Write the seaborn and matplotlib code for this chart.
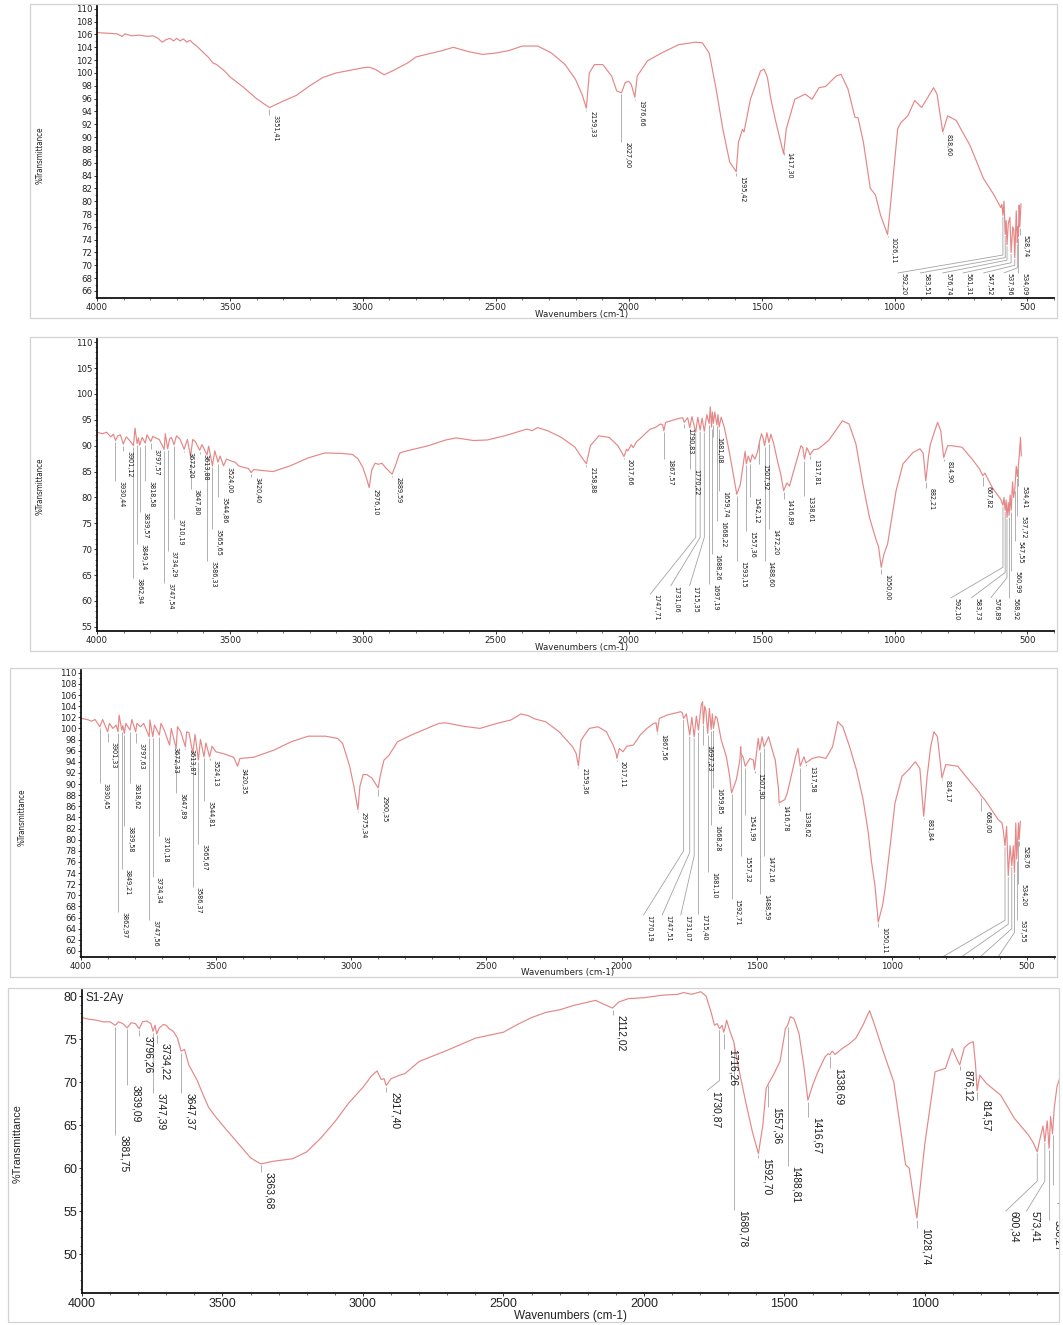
import numpy as np
import pandas as pd
import matplotlib
matplotlib.use("Agg")
import matplotlib.pyplot as plt
import seaborn as sns
from matplotlib.patches import Rectangle
from matplotlib.transforms import ScaledTranslation
from matplotlib.ticker import MultipleLocator
from matplotlib import font_manager as fm

# ---------------- data: panel 1 ----------------
p1_wn = [4000, 3960, 3925, 3905, 3895, 3870, 3840, 3810, 3790, 3770, 3755, 3740, 3725, 3712, 3700,
         3688, 3675, 3662, 3650, 3638, 3625, 3600, 3580, 3565, 3550, 3520, 3500, 3450, 3400, 3351.41,
         3300, 3250, 3200, 3150, 3100, 3000, 2975, 2950, 2920, 2880, 2830, 2800, 2700, 2660, 2600,
         2550, 2500, 2450, 2400, 2342, 2290, 2239, 2200, 2174, 2159.33, 2148, 2129, 2097, 2064, 2045,
         2027.00, 2013, 2000, 1990, 1976.66, 1968, 1929, 1877, 1813, 1749, 1723, 1697, 1671, 1646, 1620,
         1595.42, 1587, 1572, 1566, 1542, 1504, 1491, 1478, 1465, 1446, 1417.30, 1407, 1375, 1336, 1310,
         1284, 1259, 1220, 1201, 1175, 1149, 1137, 1117, 1091, 1072, 1053, 1026.11, 1014, 988, 975,
         950, 924, 898, 879, 853, 840, 818.60, 800, 768, 716, 665, 626, 600, 596, 592.20,
         588, 583.51, 580, 576.74, 572, 566, 561.31, 555, 551, 547.52, 542, 537.96, 536, 534.09, 531,
         528.74, 524]
p1_T = [106.3, 106.2, 106.1, 105.7, 106.1, 105.8, 105.9, 105.7, 105.8, 105.4, 104.8, 105.2, 105.4, 105.0, 105.4,
        105.0, 105.3, 104.8, 105.1, 104.6, 104.2, 103.2, 102.4, 101.6, 101.3, 100.3, 99.4, 97.8, 96.0, 94.6,
        95.6, 96.5, 98.0, 99.3, 100.0, 100.8, 100.9, 100.5, 99.7, 100.5, 101.6, 102.5, 103.5, 104.0, 103.3,
        102.9, 103.1, 103.5, 104.2, 104.2, 103.1, 101.3, 99.0, 96.5, 94.5, 100.0, 101.3, 101.3, 99.5, 97.2,
        96.9, 98.5, 98.7, 98.2, 96.2, 99.5, 101.9, 103.1, 104.4, 104.8, 104.7, 103.1, 97.5, 91.3, 86.1,
        84.6, 89.2, 91.2, 90.8, 95.9, 100.3, 100.6, 99.3, 95.9, 92.3, 87.4, 91.3, 95.9, 96.7, 95.9,
        97.7, 97.9, 99.5, 99.8, 97.5, 93.1, 93.0, 89.2, 82.0, 81.0, 77.9, 74.8, 79.9, 91.3, 92.3,
        93.3, 95.7, 94.6, 95.9, 97.7, 96.7, 90.8, 93.3, 92.6, 88.7, 83.5, 81.0, 79.0, 79.5, 77.8,
        80.0, 74.8, 77.0, 73.2, 76.5, 77.5, 72.0, 76.0, 75.5, 71.2, 78.5, 73.5, 76.0, 74.5, 79.4,
        76.0, 79.6]
p1_peaks = [3351.41, 2159.33, 2027.00, 1976.66, 1595.42, 1417.30, 1026.11, 818.60, 528.74, 534.09]
p1_tops = [93.5, 94.0, 89.2, 95.8, 84.0, 87.6, 74.4, 90.5, 74.8, 68.8]
p1_diag_peaks = [592.20, 583.51, 576.74, 561.31, 547.52, 537.96]
p1_diag_x = [988, 904, 820, 743, 666, 589]
p1_diag_elbow = [71.6, 71.2, 70.8, 70.4, 70.0, 69.6]
p1_diag_tops = [68.8, 68.8, 68.8, 68.8, 68.8, 68.8]

# ---------------- data: panel 2 ----------------
p2_wn = [4000, 3980, 3964, 3948, 3938, 3930.44, 3922, 3912, 3901.12, 3890, 3877, 3862.94, 3857, 3849.14, 3844,
         3839.57, 3830, 3818.58, 3812, 3797.57, 3790, 3779, 3766, 3747.54, 3743, 3734.29, 3727, 3720, 3710.19, 3701,
         3688, 3672.20, 3660, 3647.80, 3640, 3630, 3613.88, 3605, 3586.33, 3580, 3565.65, 3557, 3544.86, 3537, 3524.00,
         3513, 3493, 3480, 3467, 3448, 3430, 3420.40, 3410, 3377, 3338, 3273, 3208, 3143, 3078, 3039,
         3019, 3000, 2985, 2976.10, 2967, 2954, 2941, 2928, 2915, 2900, 2889.59, 2875, 2862, 2850, 2818,
         2753, 2688, 2649, 2584, 2532, 2467, 2402, 2383, 2363, 2343, 2305, 2253, 2202, 2176, 2158.88,
         2144, 2112, 2073, 2041, 2025, 2017.66, 2008, 2003, 1990, 1983, 1970, 1958, 1938, 1919, 1900,
         1880, 1872, 1867.57, 1861, 1842, 1816, 1797, 1790.83, 1778, 1770.22, 1762, 1747.71, 1740, 1731.06, 1724,
         1715.35, 1706, 1697.19, 1693, 1688.26, 1685, 1681.08, 1676, 1668.22, 1664, 1659.74, 1652, 1640, 1630, 1620,
         1605, 1593.15, 1580, 1570, 1562, 1557.36, 1550, 1542.12, 1535, 1525, 1515, 1507.92, 1500, 1494, 1488.60,
         1480, 1472.20, 1465, 1455, 1440, 1428, 1416.89, 1405, 1395, 1380, 1365, 1352, 1345, 1338.61, 1330,
         1322, 1317.81, 1305, 1286, 1248, 1220, 1196, 1171, 1145, 1119, 1094, 1068, 1060, 1050.00, 1040,
         1026, 994, 968, 930, 904, 892, 882.21, 872, 865, 838, 826, 814.90, 800, 785, 746,
         708, 680, 667.82, 660, 632, 600, 592.10, 588, 583.73, 580, 576.89, 572, 568.92, 565, 560.99,
         556, 552, 547.55, 542, 537.72, 534.41, 530, 526, 523]
p2_T = [92.6, 92.3, 92.6, 91.7, 92.2, 91.0, 91.9, 92.1, 90.3, 91.7, 91.0, 90.0, 93.4, 90.4, 91.5,
        90.1, 91.6, 90.5, 92.1, 90.8, 91.8, 91.5, 91.2, 89.3, 92.3, 89.4, 91.3, 91.6, 90.2, 91.9,
        91.3, 89.3, 91.2, 87.9, 91.2, 90.8, 89.1, 90.2, 88.2, 89.9, 86.1, 89.0, 86.8, 88.0, 86.1,
        87.4, 87.0, 86.8, 86.1, 85.8, 85.6, 84.8, 85.4, 85.2, 85.0, 86.1, 87.6, 88.6, 88.5, 88.3,
        87.5, 85.8, 83.5, 81.9, 85.2, 86.6, 86.4, 86.6, 85.8, 85.0, 84.5, 86.5, 88.5, 88.8, 89.2,
        90.0, 91.1, 91.5, 91.0, 91.1, 91.9, 92.9, 93.2, 92.9, 93.5, 92.9, 91.6, 89.7, 87.7, 86.5,
        90.0, 91.9, 91.6, 90.0, 88.6, 87.9, 89.3, 89.0, 90.2, 89.6, 90.8, 91.3, 92.3, 93.2, 93.5,
        94.2, 94.0, 92.9, 94.5, 94.8, 95.2, 95.4, 94.5, 95.4, 93.5, 95.6, 92.6, 95.5, 93.0, 95.3,
        92.8, 96.0, 94.3, 97.5, 93.6, 96.5, 94.3, 96.5, 94.0, 96.0, 93.6, 95.5, 93.5, 91.0, 88.4,
        84.0, 80.6, 82.5, 86.0, 88.9, 86.5, 88.0, 86.8, 88.3, 87.4, 88.8, 90.8, 92.3, 91.4, 90.0,
        92.5, 90.6, 92.2, 90.5, 87.0, 84.5, 81.3, 82.8, 82.2, 85.0, 87.7, 90.0, 89.6, 87.4, 89.6,
        88.8, 88.2, 89.2, 89.4, 91.0, 93.0, 94.8, 94.2, 90.3, 82.6, 76.1, 71.6, 70.5, 66.5, 69.0,
        71.0, 81.3, 86.5, 88.7, 89.4, 88.5, 83.2, 88.0, 90.3, 94.5, 92.9, 87.7, 90.0, 90.0, 89.7,
        87.4, 85.5, 84.2, 84.7, 81.9, 79.6, 78.5, 80.0, 77.5, 79.5, 76.1, 79.0, 76.5, 80.5, 77.5,
        83.0, 80.0, 81.5, 86.0, 84.0, 86.0, 88.5, 91.6, 88.0]
p2_peaks = [3930.44, 3901.12, 3862.94, 3849.14, 3839.57, 3818.58, 3797.57, 3747.54, 3734.29, 3710.19,
            3672.20, 3647.80, 3613.88, 3586.33, 3565.65, 3544.86, 3524.00, 3420.40, 2976.10, 2889.59,
            2158.88, 2017.66, 1867.57, 1790.83, 1770.22, 1697.19, 1688.26, 1681.08, 1668.22, 1659.74,
            1593.15, 1557.36, 1542.12, 1507.92, 1488.60, 1472.20, 1416.89, 1338.61, 1317.81, 1050.00,
            882.21, 814.90, 667.82, 568.92, 560.99, 547.55, 537.72, 534.41]
p2_tops = [83.2, 89.0, 64.5, 71.0, 77.1, 83.2, 89.4, 63.5, 69.7, 75.8,
           88.7, 81.6, 88.4, 67.7, 73.9, 80.0, 85.8, 83.9, 81.6, 83.9,
           85.8, 87.4, 87.4, 93.5, 85.5, 63.2, 69.0, 91.6, 75.5, 81.3,
           67.7, 73.5, 80.0, 86.5, 67.7, 73.9, 79.7, 80.3, 87.4, 65.2,
           81.9, 87.1, 82.3, 60.6, 65.8, 71.6, 76.4, 82.3]
p2_diag_peaks = [1747.71, 1731.06, 1715.35, 592.10, 583.73, 576.89]
p2_diag_x = [1919, 1842, 1771, 788, 711, 638]
p2_diag_elbow = [72.3, 72.3, 72.3, 66.5, 65.5, 64.5]
p2_diag_tops = [61.3, 62.9, 62.9, 60.6, 60.6, 60.6]

# ---------------- data: panel 3 ----------------
p3_wn = [4000, 3977, 3961, 3948, 3930.45, 3920, 3901.33, 3895, 3882, 3870, 3862.97, 3859, 3849.21, 3845, 3839.58,
         3834, 3818.62, 3812, 3797.63, 3793, 3780, 3768, 3747.56, 3745, 3734.34, 3728, 3710.18, 3704, 3692, 3672.33,
         3666, 3647.89, 3643, 3631, 3613.87, 3609, 3600, 3586.37, 3578, 3565.67, 3558, 3544.81, 3538, 3524.13, 3515,
         3501, 3476, 3457, 3435, 3420.35, 3412, 3362, 3286, 3222, 3159, 3095, 3051, 3032, 3006, 2990,
         2975.34, 2968, 2956, 2943, 2924, 2900.35, 2893, 2879, 2860, 2829, 2778, 2676, 2651, 2587, 2524,
         2461, 2410, 2372, 2346, 2320, 2281, 2231, 2181, 2168, 2159.36, 2150, 2137, 2119, 2087, 2056,
         2031, 2020, 2017.11, 2008, 1995, 1980, 1956, 1931, 1906, 1881, 1872, 1867.56, 1860, 1831, 1806,
         1781, 1775, 1770.19, 1760, 1747.51, 1740, 1731.07, 1723, 1715.40, 1705, 1700, 1697.23, 1692, 1688, 1681.10,
         1675, 1668.28, 1664, 1659.85, 1652, 1646, 1631, 1612, 1600, 1592.71, 1575, 1562, 1559, 1557.32, 1550,
         1541.99, 1525, 1512, 1507.90, 1494, 1488.59, 1480, 1472.16, 1456, 1444, 1431, 1419, 1416.78, 1396, 1387,
         1375, 1356, 1347, 1338.62, 1325, 1317.58, 1294, 1269, 1244, 1219, 1200, 1181, 1156, 1131, 1106,
         1087, 1075, 1062, 1050.11, 1034, 1025, 1006, 988, 962, 937, 913, 896, 881.84, 869, 856,
         844, 831, 819, 814.17, 800, 756, 706, 675, 668.00, 656, 631, 606, 592, 587, 581,
         575, 569, 562, 556, 550, 546, 541, 537.55, 534.20, 531, 528.76, 524]
p3_T = [101.8, 101.6, 101.3, 101.6, 100.3, 101.6, 99.4, 100.9, 100.0, 100.6, 99.4, 102.4, 99.7, 100.5, 99.1,
        100.9, 99.7, 101.6, 99.4, 100.9, 100.3, 100.9, 98.5, 101.5, 98.5, 100.6, 98.8, 100.9, 99.7, 97.0,
        100.0, 96.4, 100.3, 99.4, 96.7, 99.4, 99.2, 95.5, 98.9, 94.3, 98.0, 94.9, 97.4, 94.9, 96.8,
        95.8, 95.5, 95.2, 94.8, 93.2, 94.6, 94.8, 96.1, 97.6, 98.6, 98.6, 98.2, 97.3, 93.2, 89.5,
        85.4, 89.6, 91.7, 91.7, 91.1, 89.3, 91.4, 94.3, 95.2, 97.6, 98.8, 100.9, 101.0, 100.4, 100.0,
        100.9, 101.5, 102.6, 102.3, 101.7, 101.2, 99.4, 96.7, 95.5, 93.3, 97.8, 98.8, 100.0, 100.3, 99.4,
        97.0, 95.5, 94.6, 96.4, 95.8, 96.8, 97.0, 98.8, 100.0, 100.9, 101.0, 99.4, 101.8, 102.4, 102.7,
        103.0, 102.8, 101.8, 102.6, 98.8, 102.0, 98.5, 102.2, 99.7, 104.2, 104.8, 100.8, 104.0, 103.3, 99.1,
        103.6, 99.8, 102.6, 100.0, 102.2, 101.8, 97.9, 94.9, 91.4, 88.4, 90.8, 94.3, 96.7, 95.5, 94.8,
        93.2, 94.6, 94.3, 92.6, 98.2, 96.1, 98.5, 96.7, 98.5, 96.4, 94.3, 89.0, 86.6, 87.2, 88.3,
        90.8, 94.9, 96.4, 93.2, 94.9, 93.8, 94.6, 94.9, 94.6, 96.7, 101.2, 100.3, 96.7, 92.6, 87.2,
        81.3, 76.0, 71.7, 65.2, 68.2, 71.1, 78.9, 86.6, 91.4, 92.6, 94.0, 92.8, 84.2, 91.4, 96.7,
        99.4, 98.5, 93.2, 91.1, 93.5, 93.2, 90.2, 88.4, 87.8, 87.2, 85.4, 83.6, 83.0, 81.5, 78.9,
        82.4, 73.5, 78.9, 75.3, 78.9, 74.1, 83.0, 76.5, 80.0, 83.0, 80.0, 83.3]
p3_peaks = [3930.45, 3901.33, 3862.97, 3849.21, 3839.58, 3818.62, 3797.63, 3747.56, 3734.34, 3710.18,
            3672.33, 3647.89, 3613.87, 3586.37, 3565.67, 3544.81, 3524.13, 3420.35, 2975.34, 2900.35,
            2159.36, 2017.11, 1867.56, 1715.40, 1697.23, 1681.10, 1668.28, 1659.85, 1592.71, 1557.32,
            1541.99, 1507.90, 1488.59, 1472.16, 1416.78, 1338.62, 1317.58, 1050.11, 881.84, 814.17,
            668.00, 537.55, 534.20, 528.76]
p3_tops = [90.2, 97.6, 67.0, 74.7, 82.4, 90.2, 97.3, 65.5, 73.2, 80.7,
           96.6, 88.4, 96.3, 71.4, 79.2, 86.9, 94.3, 92.8, 85.0, 87.8,
           92.9, 94.2, 99.0, 66.7, 97.0, 74.1, 82.7, 89.3, 69.3, 77.1,
           84.5, 92.0, 70.2, 77.1, 86.3, 85.1, 93.2, 64.3, 83.8, 90.8,
           85.1, 65.5, 72.0, 78.9]
p3_diag_peaks = [1770.19, 1747.51, 1731.07]
p3_diag_x = [1919, 1850, 1781]
p3_diag_elbow = [78.0, 77.7, 77.1]
p3_diag_tops = [66.4, 66.4, 66.4]
p3_hidden_peaks = [581, 569, 556, 546]
p3_hidden_x = [844, 769, 694, 619]
p3_hidden_elbow = [65.5, 64.8, 64.0, 63.3]

# ---------------- data: panel 4 ----------------
p4_wn = [4000, 3975, 3950, 3925, 3900, 3881.75, 3870, 3855, 3839.09, 3825, 3810, 3796.26, 3785, 3770, 3755,
         3747.39, 3740, 3734.22, 3725, 3710, 3700, 3690, 3675, 3660, 3647.37, 3635, 3620, 3600, 3590, 3570,
         3550, 3530, 3500, 3450, 3400, 3380, 3363.68, 3320, 3250, 3200, 3150, 3100, 3050, 3000, 2970,
         2950, 2935, 2925, 2917.40, 2900, 2870, 2850, 2800, 2700, 2600, 2500, 2450, 2400, 2349, 2300,
         2251, 2172, 2140, 2112.02, 2090, 2055, 2000, 1933, 1880, 1859, 1830, 1798, 1779, 1761, 1749,
         1740, 1730.87, 1722, 1716.26, 1710, 1706, 1695, 1680.78, 1663, 1638, 1614, 1592.70, 1577, 1565, 1557.36,
         1540, 1516, 1500, 1497, 1488.81, 1479, 1467, 1460, 1448, 1430, 1416.67, 1399, 1381, 1356, 1345,
         1338.69, 1330, 1320, 1295, 1271, 1246, 1221, 1197, 1179, 1148, 1111, 1087, 1069, 1056, 1044,
         1028.74, 1001, 964, 927, 903, 884, 876.12, 860, 843, 828, 820, 814.57, 805, 780, 731,
         682, 633, 615, 600.34, 590, 580, 573.41, 565, 558.27, 553, 546.02, 540, 530, 520, 510]
p4_T = [77.5, 77.3, 77.2, 77.0, 77.0, 76.6, 77.0, 76.8, 76.3, 76.9, 76.8, 76.2, 77.0, 77.1, 76.8,
        75.9, 76.6, 75.6, 76.3, 76.7, 76.6, 76.2, 75.9, 75.1, 73.6, 73.8, 72.0, 70.8, 70.2, 68.6,
        67.1, 66.2, 65.0, 63.1, 61.2, 60.8, 60.5, 60.8, 61.1, 61.9, 63.5, 65.4, 67.6, 69.4, 70.7,
        71.3, 70.3, 70.4, 69.6, 70.4, 70.8, 71.0, 72.4, 73.7, 75.1, 75.8, 76.7, 77.5, 78.1, 78.4,
        78.9, 79.5, 79.0, 78.6, 79.3, 79.7, 79.8, 80.1, 80.2, 80.4, 80.2, 80.5, 80.0, 78.1, 76.6,
        76.8, 76.2, 76.6, 75.8, 76.5, 77.2, 76.0, 74.7, 71.6, 67.7, 64.2, 61.7, 65.0, 69.3, 69.8,
        70.8, 72.4, 75.5, 76.2, 76.6, 77.6, 77.4, 76.8, 75.6, 71.6, 67.9, 69.7, 71.2, 72.9, 73.3,
        73.2, 73.6, 73.2, 73.9, 74.4, 75.1, 76.6, 78.3, 76.6, 73.5, 70.0, 64.6, 60.4, 60.0, 57.3,
        54.2, 62.7, 71.2, 71.6, 73.9, 72.5, 72.0, 74.0, 74.5, 74.7, 72.0, 69.0, 70.8, 69.8, 68.5,
        65.8, 63.9, 63.0, 61.9, 63.5, 64.9, 63.1, 65.5, 62.3, 66.0, 64.0, 67.0, 69.5, 70.5, 71.0]
p4_peaks = [3881.75, 3839.09, 3796.26, 3747.39, 3734.22, 3647.37, 3363.68, 2917.40, 2112.02, 1716.26,
            1680.78, 1592.70, 1557.36, 1488.81, 1416.67, 1338.69, 1028.74, 876.12, 814.57, 558.27, 546.02]
p4_tops = [63.9, 69.7, 75.4, 68.7, 74.5, 68.7, 59.6, 68.9, 77.8, 73.9,
           55.2, 61.2, 67.1, 60.2, 66.0, 71.6, 53.0, 71.4, 67.9, 54.0, 58.0]
p4_diag_peaks = [1730.87, 600.34, 573.41]
p4_diag_x = [1776, 713, 639]
p4_diag_elbow = [70.2, 58.5, 58.5]
p4_diag_tops = [69.0, 55.0, 55.0]
p4_title = "S1-2Ay"

# ---------------- styling ----------------
sns.set_theme(style="white")
plt.rcParams["font.family"] = ["DejaVu Sans"]

_names = {f.name for f in fm.fontManager.ttflist}
if "Liberation Sans Narrow" in _names:
    NARROW, NSTRETCH = ["Liberation Sans Narrow", "DejaVu Sans"], "normal"
else:
    NARROW, NSTRETCH = ["DejaVu Sans"], "condensed"
ARIAL = ["Liberation Sans", "DejaVu Sans"] if "Liberation Sans" in _names else ["DejaVu Sans"]

LINE = "#e58787"
LEAD = "#a3a3a3"
TXT = "#1a1a1a"

W, H = 1063, 1325
fig = plt.figure(figsize=(W / 100, H / 100), dpi=100)


def frame(x0, x1, y0, y1):
    fig.add_artist(Rectangle((x0 / W, 1 - y1 / H), (x1 - x0) / W, (y1 - y0) / H,
                             transform=fig.transFigure, fill=False, ec="#d2d2d2", lw=0.9))


def make_ax(l, r, t, b, xlim, ylim, ystep, tick_fs, tick_fam):
    ax = fig.add_axes([l / W, 1 - b / H, (r - l) / W, (b - t) / H])
    ax.set_facecolor("none")
    ax.set_xlim(*xlim)
    ax.set_ylim(*ylim)
    for s in ["top", "right"]:
        ax.spines[s].set_visible(False)
    for s in ["left", "bottom"]:
        ax.spines[s].set_color("#111111")
        ax.spines[s].set_linewidth(1.3)
    ax.xaxis.set_major_locator(MultipleLocator(500))
    ax.xaxis.set_minor_locator(MultipleLocator(100))
    ax.yaxis.set_major_locator(MultipleLocator(ystep))
    ax.yaxis.set_minor_locator(MultipleLocator(1))
    ax.tick_params(axis="both", which="both", bottom=True, left=True, direction="out",
                   color="#333333")
    ax.tick_params(which="major", length=2.5, width=0.7, labelsize=tick_fs, pad=1.0,
                   labelcolor="#222222")
    ax.tick_params(which="minor", length=1.5, width=0.5)
    for lab in ax.get_xticklabels() + ax.get_yticklabels():
        lab.set_family(tick_fam)
    ax.grid(False)
    return ax


def fmt(v):
    return f"{v:.2f}".replace(".", ",")


def draw(ax, wn, T):
    df = pd.DataFrame({"wn": wn, "T": T})
    sns.lineplot(data=df, x="wn", y="T", ax=ax, color=LINE, linewidth=0.85,
                 sort=False, estimator=None, legend=False)
    ax.set_xlabel("")
    ax.set_ylabel("")


def labels(ax, wn, T, peaks, tops, fs, fam, stretch, lx=None, elbows=None, dx_pt=2.2, text=True):
    xs = np.asarray(wn, float)[::-1]
    ys = np.asarray(T, float)[::-1]
    y0, y1 = ax.get_ylim()
    ppu = ax.bbox.height / (y1 - y0)
    gap = 1.5 / ppu
    off = ax.transData + ScaledTranslation(dx_pt / 72, 0, fig.dpi_scale_trans)
    for i, (p, top) in enumerate(zip(peaks, tops)):
        yp = np.interp(p, xs, ys) - gap
        if lx is None:
            xl, yl, tx = [p, p], [yp, top], p
        else:
            xl, yl, tx = [p, p, lx[i]], [yp, elbows[i], top], lx[i]
        ax.plot(xl, yl, color=LEAD, lw=0.6, zorder=1, solid_capstyle="butt")
        if text:
            ax.text(tx, top, fmt(p), transform=off, rotation=270, ha="left", va="top",
                    fontsize=fs, family=fam, fontstretch=stretch, color=TXT, clip_on=True)


LFS = 5.1
TFS = 6.2

# ---------------- panel 1 ----------------
frame(30, 1057, 4, 318)
ax1 = make_ax(97, 1054, 5, 298, (4000, 400), (64.9, 110.6), 2, TFS, ["DejaVu Sans"])
draw(ax1, p1_wn, p1_T)
labels(ax1, p1_wn, p1_T, p1_peaks, p1_tops, LFS, NARROW, NSTRETCH)
labels(ax1, p1_wn, p1_T, p1_diag_peaks, p1_diag_tops, LFS, NARROW, NSTRETCH,
       lx=p1_diag_x, elbows=p1_diag_elbow)
fig.text(582 / W, 1 - 314.5 / H, "Wavenumbers (cm-1)", ha="center", va="center", fontsize=6.2,
         color="#222222")
fig.text(40 / W, 1 - 155 / H, "%Transmittance", ha="center", va="center", rotation=90,
         fontsize=5.8, family=NARROW, fontstretch=NSTRETCH, color="#222222")

# ---------------- panel 2 ----------------
frame(30, 1057, 337, 651)
ax2 = make_ax(97, 1054, 338, 631, (4000, 400), (54.2, 110.8), 5, TFS, ["DejaVu Sans"])
draw(ax2, p2_wn, p2_T)
labels(ax2, p2_wn, p2_T, p2_peaks, p2_tops, LFS, NARROW, NSTRETCH)
labels(ax2, p2_wn, p2_T, p2_diag_peaks, p2_diag_tops, LFS, NARROW, NSTRETCH,
       lx=p2_diag_x, elbows=p2_diag_elbow)
fig.text(582 / W, 1 - 647.5 / H, "Wavenumbers (cm-1)", ha="center", va="center", fontsize=6.2,
         color="#222222")
fig.text(40 / W, 1 - 486 / H, "%Transmittance", ha="center", va="center", rotation=90,
         fontsize=5.8, family=NARROW, fontstretch=NSTRETCH, color="#222222")

# ---------------- panel 3 ----------------
frame(10, 1057, 668, 977)
ax3 = make_ax(81, 1055, 670, 957, (4000, 396), (58.9, 110.5), 2, TFS, ["DejaVu Sans"])
draw(ax3, p3_wn, p3_T)
labels(ax3, p3_wn, p3_T, p3_peaks, p3_tops, LFS, NARROW, NSTRETCH)
labels(ax3, p3_wn, p3_T, p3_diag_peaks, p3_diag_tops, LFS, NARROW, NSTRETCH,
       lx=p3_diag_x, elbows=p3_diag_elbow)
labels(ax3, p3_wn, p3_T, p3_hidden_peaks, [58.0] * len(p3_hidden_peaks), LFS, NARROW, NSTRETCH,
       lx=p3_hidden_x, elbows=p3_hidden_elbow, text=False)
fig.text(568 / W, 1 - 972.5 / H, "Wavenumbers (cm-1)", ha="center", va="center", fontsize=6.2,
         color="#222222")
fig.text(22 / W, 1 - 817 / H, "%Transmittance", ha="center", va="center", rotation=90,
         fontsize=5.8, family=NARROW, fontstretch=NSTRETCH, color="#222222")

# ---------------- panel 4 ----------------
frame(8, 1059, 988, 1322)
ax4 = make_ax(82, 1059, 990, 1293, (4000, 523), (45.5, 80.7), 5, 9, ARIAL)
draw(ax4, p4_wn, p4_T)
labels(ax4, p4_wn, p4_T, p4_peaks, p4_tops, 7.4, ARIAL, "normal", dx_pt=2.6)
labels(ax4, p4_wn, p4_T, p4_diag_peaks, p4_diag_tops, 7.4, ARIAL, "normal",
       lx=p4_diag_x, elbows=p4_diag_elbow, dx_pt=2.6)
ax4.text(0.004, 0.995, p4_title, transform=ax4.transAxes, ha="left", va="top", fontsize=8.5,
         family=ARIAL, color="#222222")
fig.text(570 / W, 1 - 1316 / H, "Wavenumbers (cm-1)", ha="center", va="center", fontsize=8.5,
         family=ARIAL, color="#222222")
fig.text(18 / W, 1 - 1144 / H, "%Transmittance", ha="center", va="center", rotation=90,
         fontsize=7.8, family=ARIAL, color="#222222")

fig.savefig("out.png", dpi=100, facecolor="white")
